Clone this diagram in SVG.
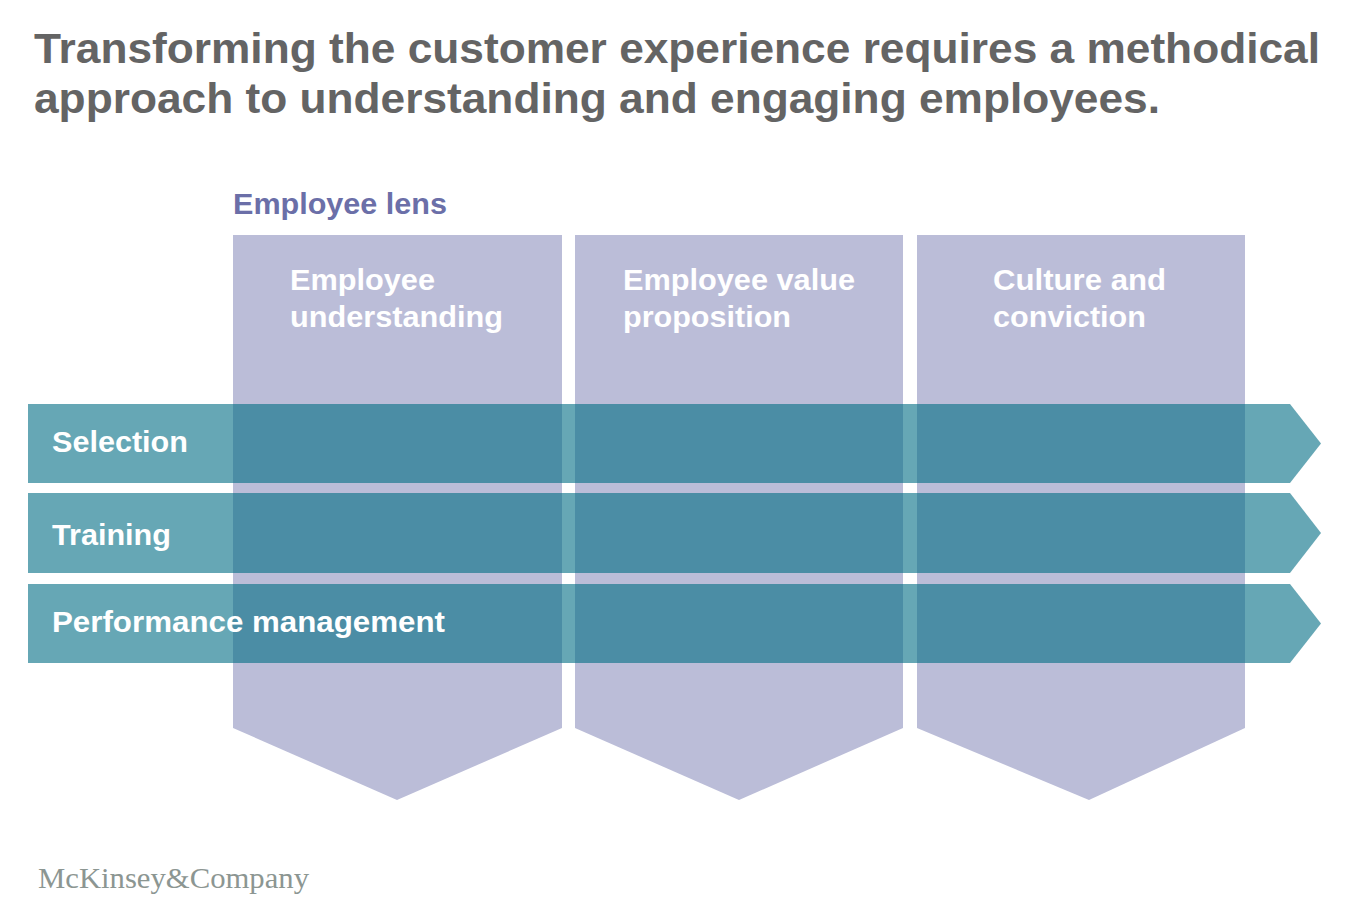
<svg xmlns="http://www.w3.org/2000/svg" width="1358" height="906" viewBox="0 0 1358 906">
<style>
.title{font-family:"Liberation Sans",Arial,sans-serif;font-size:42px;font-weight:bold;fill:#646464}
.lens{font-family:"Liberation Sans",Arial,sans-serif;font-size:29px;font-weight:bold;fill:#6b6fa8}
.lbl{font-family:"Liberation Sans",Arial,sans-serif;font-size:29px;font-weight:bold;fill:#ffffff}
.col{fill:#bbbdd8}
.row{fill:#006d84;fill-opacity:0.6}
.logo{font-family:"Liberation Serif","Times New Roman",serif;font-size:30px;fill:#8c9692}
</style>
<rect width="1358" height="906" fill="#ffffff"/>
<text class="title" x="34" y="63" textLength="1286" lengthAdjust="spacingAndGlyphs">Transforming the customer experience requires a methodical</text>
<text class="title" x="34" y="113" textLength="1126" lengthAdjust="spacingAndGlyphs">approach to understanding and engaging employees.</text>
<text class="lens" x="233" y="214" textLength="214" lengthAdjust="spacingAndGlyphs">Employee lens</text>
<g id="col1"><polygon class="col" points="233,235 562,235 562,728 397,800 233,728"/>
<text class="lbl" x="290" y="290" textLength="145" lengthAdjust="spacingAndGlyphs">Employee</text><text class="lbl" x="290" y="327" textLength="213" lengthAdjust="spacingAndGlyphs">understanding</text></g>
<g id="col2"><polygon class="col" points="575,235 903,235 903,728 739,800 575,728"/>
<text class="lbl" x="623" y="290" textLength="232" lengthAdjust="spacingAndGlyphs">Employee value</text><text class="lbl" x="623" y="327" textLength="168" lengthAdjust="spacingAndGlyphs">proposition</text></g>
<g id="col3"><polygon class="col" points="917,235 1245,235 1245,728 1089,800 917,728"/>
<text class="lbl" x="993" y="290" textLength="173" lengthAdjust="spacingAndGlyphs">Culture and</text><text class="lbl" x="993" y="327" textLength="153" lengthAdjust="spacingAndGlyphs">conviction</text></g>
<g id="row1"><polygon class="row" points="28,404 1290,404 1321,443.5 1290,483 28,483"/>
<text class="lbl" x="52" y="452" textLength="136" lengthAdjust="spacingAndGlyphs">Selection</text></g>
<g id="row2"><polygon class="row" points="28,493 1290,493 1321,533 1290,573 28,573"/>
<text class="lbl" x="52" y="545" textLength="119" lengthAdjust="spacingAndGlyphs">Training</text></g>
<g id="row3"><polygon class="row" points="28,584 1290,584 1321,623.5 1290,663 28,663"/>
<text class="lbl" x="52" y="632" textLength="393" lengthAdjust="spacingAndGlyphs">Performance management</text></g>
<g id="connectors"/>
<text class="logo" x="38" y="888" textLength="271" lengthAdjust="spacingAndGlyphs">McKinsey&amp;Company</text>
</svg>
